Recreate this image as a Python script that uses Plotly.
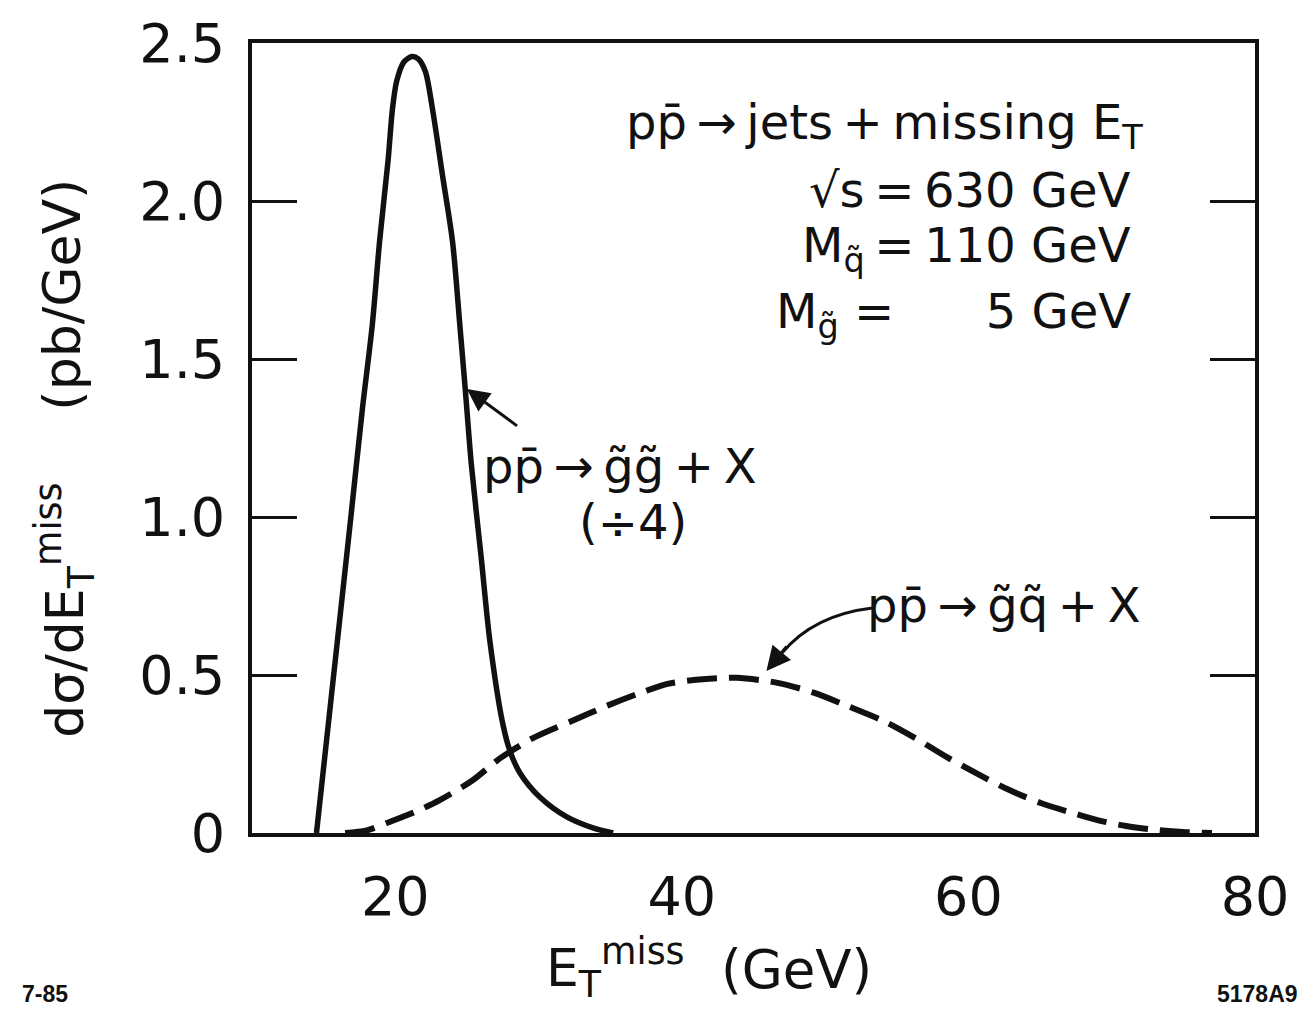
import plotly.graph_objects as go

# ---- data ----
gg_x = [14.5, 15.7, 16.9, 17.7, 18.4, 18.9, 19.5, 19.8, 20.1, 20.6, 21.16, 21.6, 22.1, 22.6,
        23.3, 24.0, 24.5, 24.9, 25.3, 26.0, 26.6, 27.5, 28.0, 28.7, 30.1, 32.0, 33.8, 35.2]
gg_y = [0.0, 0.5, 1.0, 1.34, 1.61, 1.87, 2.13, 2.29, 2.38, 2.44, 2.457, 2.45, 2.41, 2.29,
        2.08, 1.87, 1.61, 1.395, 1.17, 0.87, 0.608, 0.346, 0.26, 0.19, 0.113, 0.05, 0.016, 0.0]

gq_x = [16.5, 18.0, 19.6, 21.3, 23.1, 25.4, 27.3, 29.6, 32.4, 34.8, 36.9, 39.0, 41.0, 42.5,
        43.8, 46.6, 49.2, 51.5, 54.0, 56.3, 58.5, 60.8, 62.9, 65.1, 67.3, 69.0, 71.0, 73.0, 75.0, 77.0]
gq_y = [0.0, 0.008, 0.035, 0.065, 0.104, 0.167, 0.236, 0.30, 0.356, 0.403, 0.44, 0.472, 0.485, 0.49,
        0.491, 0.476, 0.444, 0.403, 0.356, 0.30, 0.24, 0.183, 0.135, 0.094, 0.063, 0.041, 0.022, 0.01, 0.003, 0.0]

x_tickvals = [20, 40, 60, 80]
x_ticktext = ["20", "40", "60", "80"]
x_top_ticks = [20, 40, 60]
x_bottom_ticks = [40, 60]
y_tickvals = [0, 0.5, 1.0, 1.5, 2.0, 2.5]
y_ticktext = ["0", "0.5", "1.0", "1.5", "2.0", "2.5"]

INK = "#111111"
FONT = "DejaVu Sans"
TS = "\u2009"  # thin space

fig = go.Figure()
fig.add_trace(go.Scatter(x=gg_x, y=gg_y, mode="lines",
                         line=dict(color=INK, width=5.5, shape="spline", smoothing=0.8),
                         showlegend=False, hoverinfo="skip"))
fig.add_trace(go.Scatter(x=gq_x, y=gq_y, mode="lines",
                         line=dict(color=INK, width=6, dash="30px,12px", shape="spline", smoothing=0.8),
                         showlegend=False, hoverinfo="skip"))

fig.update_layout(
    width=1302, height=1009,
    margin=dict(l=252, r=47, t=37, b=176),
    paper_bgcolor="white", plot_bgcolor="white",
    font=dict(family=FONT, color=INK),
    xaxis=dict(range=[10, 80], tickvals=x_tickvals, ticktext=x_ticktext, ticks="",
               showline=True, mirror=True, linecolor=INK, linewidth=4, showgrid=False,
               zeroline=False, tickfont=dict(size=54, family=FONT), ticklabelstandoff=13,
               ticklabeloverflow="allow"),
    xaxis2=dict(range=[10, 80], overlaying="x", side="top", anchor="y", tickvals=x_top_ticks,
                ticks="inside", ticklen=45, tickwidth=3, tickcolor=INK, showticklabels=False,
                showline=False, showgrid=False, zeroline=False),
    xaxis3=dict(range=[10, 80], overlaying="x", side="bottom", anchor="y", tickvals=x_bottom_ticks,
                ticks="inside", ticklen=45, tickwidth=3, tickcolor=INK, showticklabels=False,
                showline=False, showgrid=False, zeroline=False),
    yaxis=dict(range=[0, 2.5], tickvals=y_tickvals, ticktext=y_ticktext, ticks="inside",
               ticklen=45, tickwidth=3, tickcolor=INK, showline=True, mirror="allticks",
               linecolor=INK, linewidth=4, showgrid=False, zeroline=False,
               tickfont=dict(size=54, family=FONT), ticklabelstandoff=12,
               ticklabeloverflow="allow"),
)

ann = []
# header block
ann.append(dict(x=72.35, y=2.24, xref="x", yref="y", xanchor="right", yanchor="middle",
                text=f"pp\u0304{TS}\u2192{TS}jets{TS}+{TS}missing E<sub>T</sub>", showarrow=False,
                font=dict(size=48, family=FONT, color=INK)))
ann.append(dict(x=71.5, y=2.035, xref="x", yref="y", xanchor="right", yanchor="middle",
                text=f"\u221as{TS}={TS}630 GeV", showarrow=False, font=dict(size=48, family=FONT, color=INK)))
ann.append(dict(x=71.5, y=1.85, xref="x", yref="y", xanchor="right", yanchor="middle",
                text=f"M<sub>q\u0303</sub>{TS}={TS}110 GeV", showarrow=False, font=dict(size=48, family=FONT, color=INK)))
ann.append(dict(x=71.5, y=1.64, xref="x", yref="y", xanchor="right", yanchor="middle",
                text="M<sub>g\u0303</sub> =      5 GeV", showarrow=False, font=dict(size=48, family=FONT, color=INK)))
# gluino-gluino label
ann.append(dict(x=35.7, y=1.16, xref="x", yref="y", xanchor="center", yanchor="middle",
                text=f"pp\u0304{TS}\u2192{TS}g\u0303g\u0303{TS}+{TS}X", showarrow=False,
                font=dict(size=48, family=FONT, color=INK)))
ann.append(dict(x=36.6, y=0.985, xref="x", yref="y", xanchor="center", yanchor="middle",
                text="(\u00f74)", showarrow=False, font=dict(size=48, family=FONT, color=INK)))
ann.append(dict(x=25.0, y=1.405, xref="x", yref="y", ax=28.6, ay=1.285, axref="x", ayref="y",
                text="", showarrow=True, arrowhead=2, arrowsize=1.5, arrowwidth=3, arrowcolor=INK))
# gluino-squark label
ann.append(dict(x=62.5, y=0.72, xref="x", yref="y", xanchor="center", yanchor="middle",
                text=f"pp\u0304{TS}\u2192{TS}g\u0303q\u0303{TS}+{TS}X", showarrow=False,
                font=dict(size=48, family=FONT, color=INK)))
ann.append(dict(x=45.9, y=0.513, xref="x", yref="y", ax=47.4, ay=0.595, axref="x", ayref="y",
                text="", showarrow=True, arrowhead=2, arrowsize=1.6, arrowwidth=3, arrowcolor=INK))
# axis titles
ann.append(dict(x=0.362, y=-0.171, xref="paper", yref="paper", xanchor="center", yanchor="middle",
                text="E<sub>T</sub><sup>miss</sup>", showarrow=False, font=dict(size=52, family=FONT, color=INK)))
ann.append(dict(x=0.543, y=-0.173, xref="paper", yref="paper", xanchor="center", yanchor="middle",
                text="(GeV)", showarrow=False, font=dict(size=53, family=FONT, color=INK)))
ann.append(dict(x=-0.189, y=0.682, xref="paper", yref="paper", xanchor="center", yanchor="middle",
                text="(pb/GeV)", textangle=-90, showarrow=False, font=dict(size=52, family=FONT, color=INK)))
ann.append(dict(x=-0.186, y=0.282, xref="paper", yref="paper", xanchor="center", yanchor="middle",
                text="d\u03c3/dE<sub>T</sub><sup>miss</sup>", textangle=-90, showarrow=False,
                font=dict(size=52, family=FONT, color=INK)))
# corner labels
ann.append(dict(x=-0.206, y=-0.2035, xref="paper", yref="paper", xanchor="center", yanchor="middle",
                text="<b>7-85</b>", showarrow=False, font=dict(size=23, family="Liberation Sans", color=INK)))
ann.append(dict(x=1.002, y=-0.2035, xref="paper", yref="paper", xanchor="center", yanchor="middle",
                text="<b>5178A9</b>", showarrow=False, font=dict(size=23, family="Liberation Sans", color=INK)))
fig.update_layout(annotations=ann)

# curved leader for the gluino-squark label
fig.add_shape(type="path", xref="x", yref="y",
              path="M 53.3,0.712 Q 49.2,0.69 47.0,0.57",
              line=dict(color=INK, width=3))

fig.write_html("out.html", config={"displayModeBar": False},
               post_script="document.body.style.margin='0';")
